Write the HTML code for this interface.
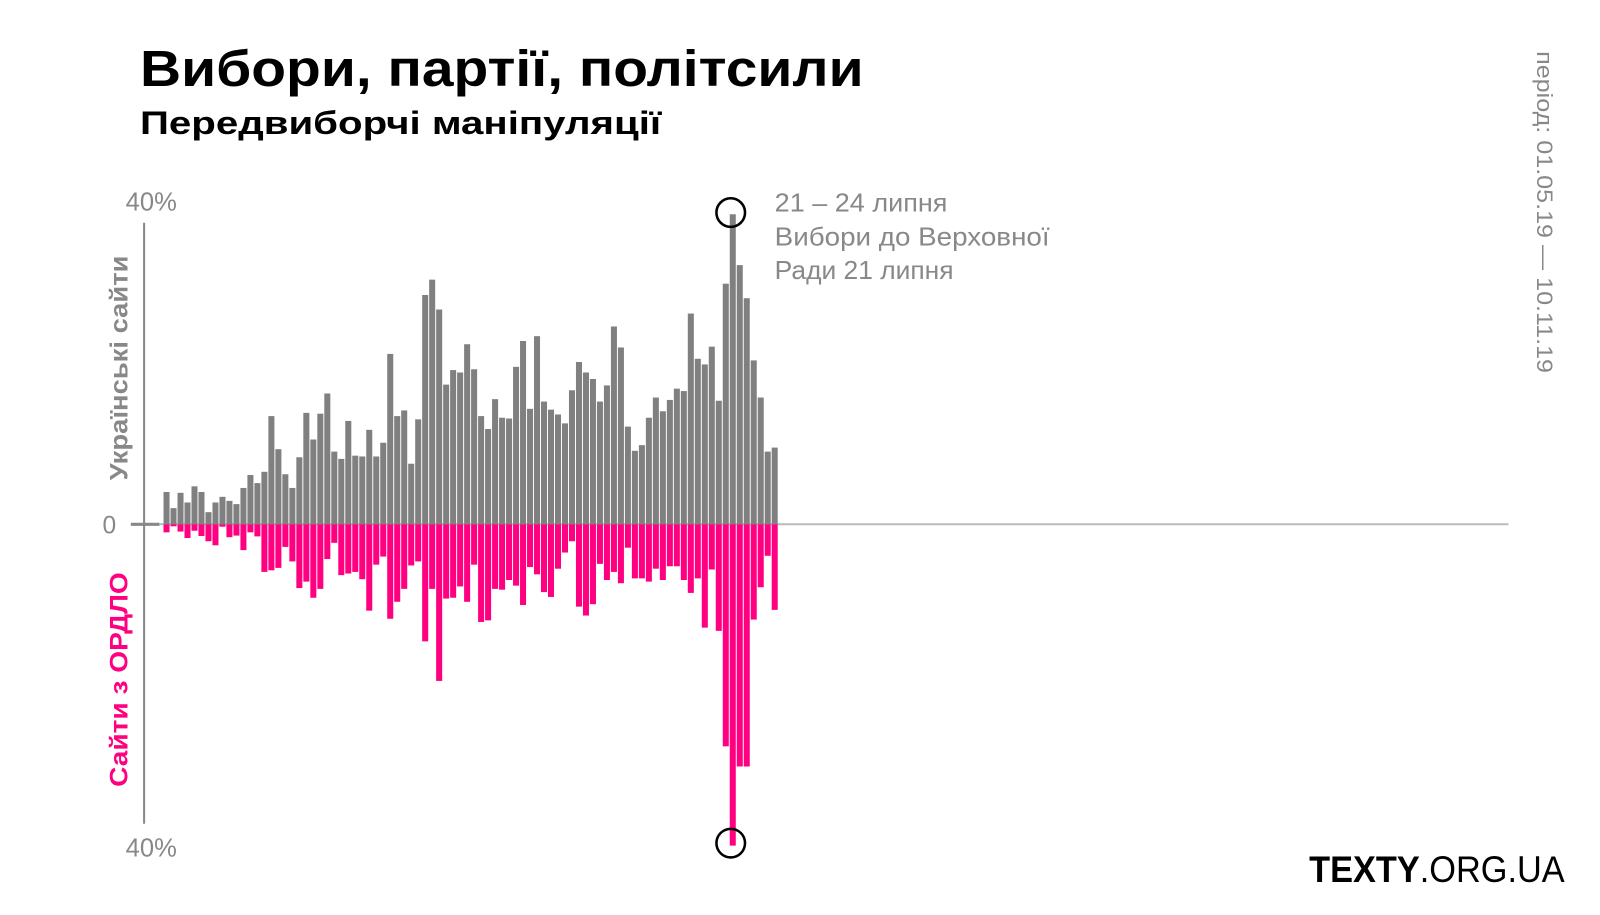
<!DOCTYPE html>
<html><head><meta charset="utf-8">
<style>
body{margin:0;background:#fff;}
svg text{font-family:"Liberation Sans","DejaVu Sans",sans-serif;}
</style></head>
<body>
<svg id="chart" width="1600" height="910" xmlns="http://www.w3.org/2000/svg">
<g transform="scale(1.022)">
<text x="137" y="84" font-size="50" font-weight="bold" fill="#000" textLength="708" lengthAdjust="spacingAndGlyphs">Вибори, партії, політсили</text>
<text x="137" y="131" font-size="32" font-weight="bold" fill="#000" textLength="510" lengthAdjust="spacingAndGlyphs">Передвиборчі маніпуляції</text>
<text transform="translate(1504,50) rotate(90)" font-size="22" fill="#888" textLength="315" lengthAdjust="spacingAndGlyphs">період: 01.05.19 — 10.11.19</text>
<text x="148" y="206" font-size="25" fill="#888" text-anchor="middle">40%</text>
<text x="148" y="838" font-size="25" fill="#888" text-anchor="middle">40%</text>
<text x="107" y="522" font-size="24" fill="#888" text-anchor="middle">0</text>
<text transform="translate(125,360) rotate(-90)" font-size="24" font-weight="bold" fill="#888" text-anchor="middle" textLength="220" lengthAdjust="spacingAndGlyphs">Українські сайти</text>
<text transform="translate(125,665) rotate(-90)" font-size="24" font-weight="bold" fill="#ff0080" text-anchor="middle" textLength="210" lengthAdjust="spacingAndGlyphs">Сайти з ОРДЛО</text>
<line x1="141" y1="218" x2="141" y2="806" stroke="#888" stroke-width="2"/>
<line x1="128" y1="513" x2="156" y2="513" stroke="#888" stroke-width="3"/>
<line x1="156" y1="513" x2="1476" y2="513" stroke="#bbb" stroke-width="2"/>
<g id="bars"></g>
<circle cx="715" cy="208" r="14" fill="none" stroke="#000" stroke-width="2.5"/>
<circle cx="715" cy="825" r="14" fill="none" stroke="#000" stroke-width="2.5"/>
<g font-size="25" fill="#888">
<text x="758" y="207" textLength="169" lengthAdjust="spacingAndGlyphs">21 – 24 липня</text>
<text x="758" y="240" textLength="269" lengthAdjust="spacingAndGlyphs">Вибори до Верховної</text>
<text x="758" y="273" textLength="175" lengthAdjust="spacingAndGlyphs">Ради 21 липня</text>
</g>
<text x="1281" y="863" font-size="36" fill="#000" textLength="250" lengthAdjust="spacingAndGlyphs"><tspan font-weight="bold">TEXTY</tspan>.ORG.UA</text>
</g>
</svg>
<script>
const ukrainianSites = [4.0,2.0,3.9,2.7,4.7,4.0,1.5,2.7,3.4,2.9,2.5,4.5,6.1,5.1,6.5,13.4,9.3,6.2,4.5,8.3,13.8,10.5,13.7,16.2,9.0,8.1,12.8,8.5,8.4,11.7,8.4,10.1,21.1,13.4,14.1,7.5,13.0,28.4,30.3,26.6,17.3,19.1,18.8,22.3,19.2,13.4,11.8,15.5,13.2,13.1,19.5,22.7,14.3,23.3,15.2,14.2,13.6,12.5,16.6,20.1,18.8,18.0,15.2,17.2,24.5,21.9,12.1,9.1,9.8,13.2,15.7,14.0,15.4,16.8,16.5,26.1,20.5,19.8,22.0,15.3,29.8,38.4,32.1,28.0,20.3,15.7,9.0,9.5];
const ordloSites = [1.0,0.25,0.9,1.7,0.8,1.45,2.1,2.6,0.3,1.6,1.4,3.2,1.0,1.5,5.9,5.7,5.4,2.8,4.6,7.9,7.1,9.1,8.0,4.3,2.3,6.3,6.1,5.9,6.8,10.7,5.0,4.0,11.7,9.6,8.0,5.1,4.6,14.5,8.0,19.4,9.2,9.1,7.7,9.6,5.0,12.1,11.9,8.0,8.1,6.9,7.6,10.0,5.3,6.2,8.4,9.0,5.5,3.5,2.1,10.2,11.3,9.9,4.9,6.9,5.9,7.3,2.9,6.7,6.7,7.1,5.5,6.9,5.2,5.2,6.9,8.5,6.7,12.8,5.6,13.2,27.5,39.8,30.0,30.0,11.8,7.8,3.9,10.6];
const zeroY = 513, pxPerPct = 7.9, x0 = 160, pitch = 6.84, barW = 5.9;
const yScale = v => v * pxPerPct;
const xScale = i => x0 + i * pitch;
const NS = "http://www.w3.org/2000/svg";
const g = document.getElementById("bars");
ukrainianSites.forEach((v, i) => {
  const r = document.createElementNS(NS, "rect");
  r.setAttribute("x", xScale(i)); r.setAttribute("width", barW);
  r.setAttribute("y", zeroY - yScale(v)); r.setAttribute("height", yScale(v));
  r.setAttribute("fill", "#808080");
  
  
  g.appendChild(r);
});
ordloSites.forEach((v, i) => {
  const r = document.createElementNS(NS, "rect");
  r.setAttribute("x", xScale(i)); r.setAttribute("width", barW);
  r.setAttribute("y", zeroY); r.setAttribute("height", yScale(v));
  r.setAttribute("fill", "#ff0080");
  
  
  g.appendChild(r);
});
</script>
</body></html>
